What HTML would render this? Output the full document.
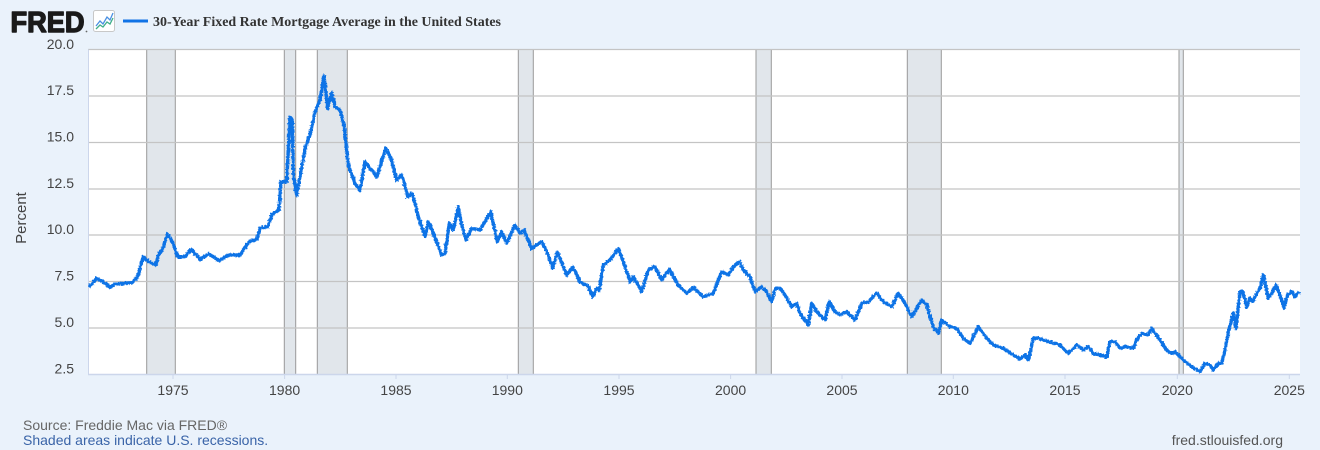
<!DOCTYPE html>
<html><head><meta charset="utf-8"><style>
html,body{margin:0;padding:0;background:#eaf2fb;}
svg{display:block;}
text{font-family:"Liberation Sans",Arial,sans-serif;}
</style></head><body>
<svg width="1320" height="450" viewBox="0 0 1320 450" xmlns="http://www.w3.org/2000/svg">
<defs>
<filter id="rough" x="-2%" y="-5%" width="104%" height="110%">
<feTurbulence type="fractalNoise" baseFrequency="0.6" numOctaves="1" seed="3" result="n"/>
<feDisplacementMap in="SourceGraphic" in2="n" scale="3.5" xChannelSelector="R" yChannelSelector="G"/>
</filter>
</defs>
<rect x="0" y="0" width="1320" height="450" fill="#eaf2fb"/>
<!-- header -->
<text x="10.5" y="32" font-size="29" font-weight="bold" fill="#1a1a1a" stroke="#1a1a1a" stroke-width="1.4" stroke-linejoin="round" textLength="74" lengthAdjust="spacingAndGlyphs">FRED</text>
<circle cx="86.5" cy="31.5" r="0.9" fill="#666"/>
<rect x="93.5" y="10.5" width="21" height="21" rx="2" fill="#fff" stroke="#c8c8c8"/>
<polyline points="96,26 100,21 103,24 107,17 110,20 113,13" fill="none" stroke="#4a90e2" stroke-width="1.3"/>
<polyline points="96,29 100,25 103,27 107,22 110,24 113,18" fill="none" stroke="#3fae8a" stroke-width="1.3"/>
<line x1="123" y1="21" x2="148" y2="21" stroke="#1173e6" stroke-width="3"/>
<text x="153" y="26" font-size="14" font-weight="bold" fill="#333" textLength="348" lengthAdjust="spacingAndGlyphs" style="font-family:'Liberation Serif',serif">30-Year Fixed Rate Mortgage Average in the United States</text>
<!-- plot -->
<rect x="88" y="49.5" width="1212" height="325" fill="#fff"/>
<g fill="#e1e6eb" stroke="#999" stroke-width="1">
<rect x="146.7" y="49.5" width="28.6" height="325"/>
<rect x="284.3" y="49.5" width="11.4" height="325"/>
<rect x="317.3" y="49.5" width="30" height="325"/>
<rect x="518.3" y="49.5" width="15" height="325"/>
<rect x="756" y="49.5" width="15.3" height="325"/>
<rect x="907.3" y="49.5" width="34" height="325"/>
<rect x="1179" y="49.5" width="4.3" height="325"/>
</g>
<g stroke="#c4c4c4" stroke-width="1.3">
<line x1="88" y1="49.5" x2="1300" y2="49.5"/>
<line x1="88" y1="96" x2="1300" y2="96"/>
<line x1="88" y1="142.5" x2="1300" y2="142.5"/>
<line x1="88" y1="189" x2="1300" y2="189"/>
<line x1="88" y1="235" x2="1300" y2="235"/>
<line x1="88" y1="281.5" x2="1300" y2="281.5"/>
<line x1="88" y1="328" x2="1300" y2="328"/>
</g>
<line x1="88" y1="374.5" x2="1300" y2="374.5" stroke="#ccd6eb" stroke-width="1.5"/>
<line x1="88.5" y1="49.5" x2="88.5" y2="374.5" stroke="#ccd6eb" stroke-width="1"/>
<g stroke="#ccd6eb" stroke-width="1">
<line x1="173" y1="375" x2="173" y2="379"/><line x1="284.6" y1="375" x2="284.6" y2="379"/>
<line x1="396" y1="375" x2="396" y2="379"/><line x1="507.3" y1="375" x2="507.3" y2="379"/>
<line x1="619" y1="375" x2="619" y2="379"/><line x1="730.6" y1="375" x2="730.6" y2="379"/>
<line x1="842" y1="375" x2="842" y2="379"/><line x1="953.3" y1="375" x2="953.3" y2="379"/>
<line x1="1065" y1="375" x2="1065" y2="379"/><line x1="1177.3" y1="375" x2="1177.3" y2="379"/>
<line x1="1289.3" y1="375" x2="1289.3" y2="379"/>
</g>
<polyline fill="none" stroke="#1173e6" stroke-width="3.4" stroke-linejoin="round" filter="url(#rough)" points="
89,286.7 93,283 96.7,278.3 101.7,280.7 106,284 110,287.3 115,284 122,283.5 131.7,282.7 137.7,276.7 143.3,256.7 148.3,261.7 155.7,265 159,253.3 162.3,250 167.3,234 172.3,241.7 177.7,256.7 185,256.7 191,249.3 200,259.3 209,254 219,260.7 228.3,255 240,255 249,241.7 256.7,239.3 260,228.3 267.7,226.7 272.3,214 279,210 281,181.7 286.7,181.7 290,116.7 292.3,120 293.3,173.3 296.7,195 301.7,166.7 306,145 310,135 315,111.7 320,100 324,76 327.7,108.3 331.7,92.7 335,106.7 340,110 344.3,126.7 348.3,165 355,183.3 360,190 365,161.7 376.7,176.7 385.7,148.3 391,158.3 396.7,180 401.7,175 403.3,180 407.7,197 411.7,193.3 415,203.3 418.3,216.7 425,236.7 428.3,221.7 433.3,233.3 441.7,255 445,253.3 449.3,223.3 453.3,230 458.3,206.7 461.7,225 466,240 471.7,228.3 480,230 485,221.7 490.7,211.7 497.3,241.7 501.7,231.7 506.7,243.3 515,225 520,233.3 524,230 531.7,248.3 541.7,241.7 548.3,255 552.7,268.3 557.3,251.7 566.7,275 572.7,266.7 580,281.7 588.3,286.7 592.7,296.7 596.7,288.3 599.3,290 603.3,265 610,260 618.3,248.3 623.3,261.7 630,281.7 633.3,276.7 641.7,291.7 648.3,270 655,266.7 661.7,280 669.3,269.3 678.3,285 686.7,293.3 693.3,287.3 703.3,296.7 713.3,293.3 721.7,271.7 728.3,275 733.3,266.7 739.3,261.7 743.3,270 745,271.7 750,276.7 755,291.7 761.7,286.7 766.7,291.7 771.7,301.7 775,288.3 780,288.3 785,295 791.7,306.7 796.7,303.3 800,313.3 808.3,325 811.7,303.3 816.7,311.7 825,320 829.3,301.7 835,311.7 840,315 846.7,311.7 855,320 861.7,303.3 868.3,301.7 876.7,293.3 883.3,301.7 891.7,306.7 898.3,293.3 905,303.3 911.7,316.7 916.7,308.3 921.7,300 926.7,305 933.3,326.7 938.3,333.3 941.7,320 950,326.7 956.7,328.3 963.3,338.3 970,343.3 978.3,326.7 986.7,338.3 993.3,345 1003.3,348.3 1013.3,355 1020,359 1025,355 1028.3,360 1033.3,338.3 1038.3,338 1043.3,340 1060,345 1068.3,353.3 1071.7,350 1076.7,345 1083.3,350 1088.3,346.7 1093.3,353.3 1100,355 1106.7,356.7 1110,341.7 1115,341.7 1120,348.3 1125,346.7 1133.3,348.3 1136.7,340 1141.7,333.3 1148.3,335 1151.7,328.3 1155,333.3 1160,340 1166.7,350 1171.7,353.3 1175,351.7 1178.3,355 1185,361.7 1191.7,366.7 1200,371.7 1205,363.3 1210,365 1213.3,370 1218.3,363.3 1221.7,363.3 1225,350 1226.7,340 1230,325 1233.3,313.3 1236,328.3 1240,291.7 1242.7,291.7 1246.7,306.7 1250,298.3 1252.7,301.7 1256.7,293.3 1260,288.3 1263.3,275 1266,286.7 1268.3,298.3 1271.7,293.3 1276,285 1280,295 1284,308.3 1287.3,295 1291.7,291.7 1295,296.7 1299.3,291.7"/>
<!-- y labels -->
<g font-size="14" fill="#444" text-anchor="end">
<text x="74" y="49">20.0</text>
<text x="74" y="95">17.5</text>
<text x="74" y="141.5">15.0</text>
<text x="74" y="188">12.5</text>
<text x="74" y="234">10.0</text>
<text x="74" y="280.5">7.5</text>
<text x="74" y="327">5.0</text>
<text x="74" y="373.5">2.5</text>
</g>
<text transform="translate(26,218) rotate(-90)" font-size="15" fill="#444" text-anchor="middle">Percent</text>
<!-- x labels -->
<g font-size="14" fill="#444" text-anchor="middle">
<text x="173" y="395">1975</text>
<text x="284.6" y="395">1980</text>
<text x="396" y="395">1985</text>
<text x="507.3" y="395">1990</text>
<text x="619" y="395">1995</text>
<text x="730.6" y="395">2000</text>
<text x="842" y="395">2005</text>
<text x="953.3" y="395">2010</text>
<text x="1065" y="395">2015</text>
<text x="1177.3" y="395">2020</text>
<text x="1289.3" y="395">2025</text>
</g>
<!-- footer -->
<text x="23" y="430" font-size="14" fill="#666">Source: Freddie Mac via FRED®</text>
<text x="23" y="445" font-size="14" fill="#3a64a8">Shaded areas indicate U.S. recessions.</text>
<text x="1283" y="445" font-size="14" fill="#555" text-anchor="end">fred.stlouisfed.org</text>
</svg>
</body></html>
